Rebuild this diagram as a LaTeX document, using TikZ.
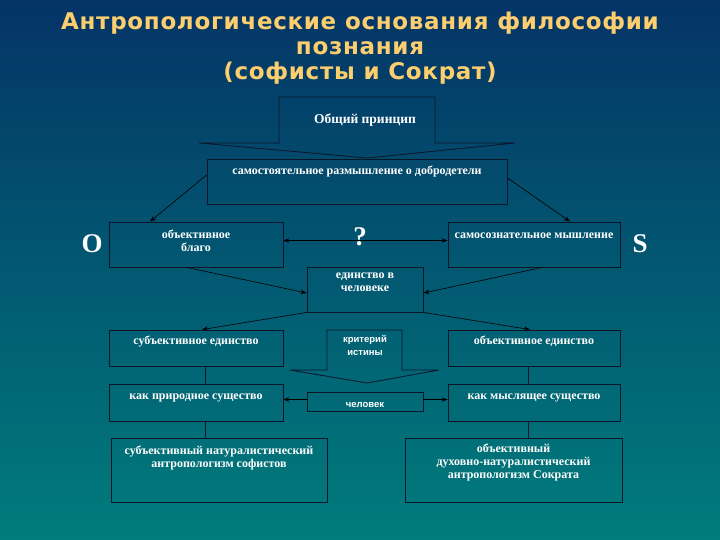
\documentclass[tikz,border=0pt]{standalone}
\usepackage{fontspec}
\setmainfont{Liberation Serif}
\newfontfamily\titlefont[LetterSpace=3]{DejaVu Sans}
\newfontfamily\smallsans{Liberation Sans}
\usepackage{xcolor}
\usetikzlibrary{arrows.meta, positioning, calc}

\definecolor{bgtop}{RGB}{4,52,102}
\definecolor{bgbot}{RGB}{0,124,124}
\definecolor{titlegold}{RGB}{252,206,110}
\definecolor{edge}{RGB}{12,22,40}

\tikzset{
  box/.style={draw=edge, line width=0.9pt, inner sep=0pt},
  txt/.style={text=white, inner sep=0pt, align=center,
    font=\bfseries\fontsize{12}{13}\selectfont, execute at begin node=\strut},
  smalltxt/.style={txt, font=\smallsans\bfseries\fontsize{9.5}{13}\selectfont},
  bigletter/.style={text=white, inner sep=0pt, font=\bfseries\fontsize{27}{27}\selectfont},
  link/.style={line width=0.6pt, -{Stealth[length=6pt,width=4.5pt]}},
  plain/.style={line width=0.8pt, draw=edge},
}

\begin{document}
\begin{tikzpicture}[x=1pt, y=-1pt]
    % background
    \shade[top color=bgtop, bottom color=bgbot] (0,0) rectangle (720,540);
    \useasboundingbox (0,0) rectangle (720,540);
    % title
    \node[anchor=north, align=center, inner sep=0pt, text=titlegold,
      font=\titlefont\bfseries\fontsize{23}{25}\selectfont] (title) at (360,12)
      {\strut Антропологические основания философии\\познания\\(софисты и Сократ)};
    % general principle (arrow callout)
    \draw[plain] (279,143) -- (279,97) -- (435,97) -- (435,143) -- (515,143)
      -- (367,158) -- (199,143) -- cycle;
    \node[txt, font=\bfseries\fontsize{13.5}{14}\selectfont] (gpt) at (365,121) {Общий принцип};
    % boxes
    \node[box, minimum width=300, minimum height=45] (sr) at (357,181.5) {};
    \node[box, minimum width=174, minimum height=45] (ob) at (196,244.5) {};
    \node[box, minimum width=172, minimum height=45] (sm) at (534,244.5) {};
    \node[box, minimum width=116, minimum height=45] (ed) at (365,289.5) {};
    \node[box, minimum width=174, minimum height=36] (su) at (196,348) {};
    \node[box, minimum width=172, minimum height=36] (oe) at (534,348) {};
    \node[box, minimum width=174, minimum height=37] (kp) at (196,402.5) {};
    \node[box, minimum width=172, minimum height=37] (km) at (534,402.5) {};
    \node[box, minimum width=116, minimum height=19] (ch) at (365,401.5) {};
    \node[box, minimum width=216, minimum height=64] (ls) at (219,470) {};
    \node[box, minimum width=217, minimum height=64] (rs) at (513.5,470) {};
    % criterion of truth (arrow callout)
    \draw[plain] (327,370) -- (327,330) -- (402,330) -- (402,370) -- (439,370)
      -- (367,383) -- (290,370) -- cycle;
    % texts
    \node[txt, below=6.75pt of sr.north] (srt) {самостоятельное размышление о добродетели};
    \node[txt, below=7.75pt of ob.north] (obt) {объективное\\благо};
    \node[txt, below=7.75pt of sm.north] (smt) {самосознательное мышление};
    \node[txt, below=5.75pt of ed.north] (edt) {единство в\\человеке};
    \node[txt, below=5.75pt of su.north] (sut) {субъективное единство};
    \node[txt, below=5.75pt of oe.north] (oet) {объективное единство};
    \node[smalltxt] (krt) at (365,330) [anchor=north, yshift=-5.5pt] {критерий\\истины};
    \node[txt, below=6.75pt of kp.north] (kpt) {как природное существо};
    \node[txt, below=6.75pt of km.north] (kmt) {как мыслящее существо};
    \node[smalltxt, below=6.5pt of ch.north] (cht) {человек};
    \node[txt, below=7.75pt of ls.north] (lst)
      {субъективный натуралистический\\антропологизм софистов};
    \node[txt, below=5.75pt of rs.north] (rst)
      {объективный\\духовно-натуралистический\\антропологизм Сократа};
    % O, S and question mark
    \node[bigletter] (O) at (92,244) {O};
    \node[bigletter] (S) at (640,244) {S};
    \node[bigletter] (q) at (360,237) {?};
    % connectors
    \draw[link] ([yshift=6.5]sr.west) -- ([xshift=-46]ob.north);
    \draw[link] ([yshift=3.5]sr.east) -- ([xshift=36]sm.north);
    \draw[link, {Stealth[length=6pt,width=4.5pt]}-{Stealth[length=6pt,width=4.5pt]}]
      ([yshift=4]ob.east) -- ([yshift=4]sm.west);
    \draw[link] ([xshift=-9]ob.south) -- ([yshift=-3.5]ed.west);
    \draw[link] ([xshift=8]sm.south) -- ([yshift=-3.5]ed.east);
    \draw[link] (ed.south west) -- ([xshift=6]su.north);
    \draw[link] (ed.south east) -- ([xshift=-4]oe.north);
    \draw[plain] ([xshift=9]su.south) -- ([xshift=9]kp.north);
    \draw[plain] ([xshift=-6]oe.south) -- ([xshift=-6]km.north);
    \draw[plain] ([xshift=9]kp.south) -- ([xshift=9]kp.south |- ls.north);
    \draw[plain] ([xshift=-6]km.south) -- ([xshift=-6]km.south |- rs.north);
    \draw[link] ([yshift=2]ch.west) -- ([yshift=2]ch.west -| kp.east);
    \draw[link] ([yshift=2]ch.east) -- ([yshift=2]ch.east -| km.west);
\end{tikzpicture}
\end{document}
